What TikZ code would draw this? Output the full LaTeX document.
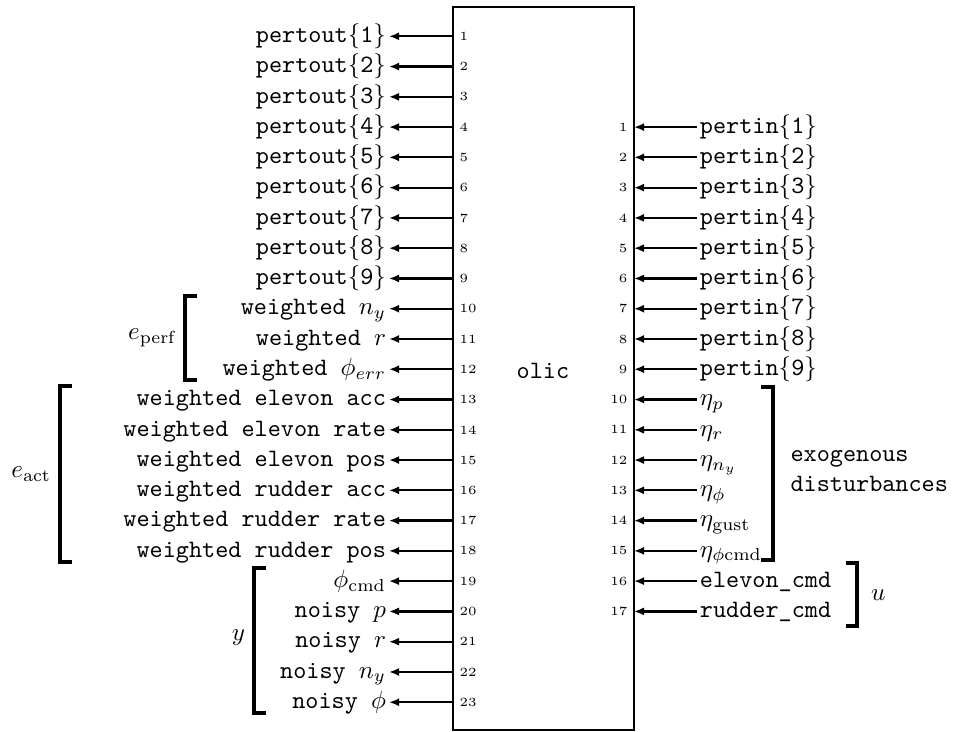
\documentclass[tikz,border=0pt]{standalone}
\usetikzlibrary{arrows.meta}
\newcommand{\lb}{$\{$}
\newcommand{\rb}{$\}$}
\begin{document}
\begin{tikzpicture}[x=0.4pt,y=-0.4pt,
  port/.style={line width=0.9pt,-{Latex[length=4pt,width=3.2pt]}},
  outlbl/.style={anchor=east,inner sep=1pt,font=\ttfamily,text height=7pt,text depth=2pt},
  inlbl/.style={anchor=west,inner sep=1pt,font=\ttfamily,text height=7pt,text depth=2pt},
  pnum/.style={inner sep=0pt,font=\tiny},
  brk/.style={line width=1.3pt}]
\useasboundingbox (0,0) rectangle (963,732);
% the system block
\draw[line width=0.8pt] (453,7) rectangle (634,730);
\node[font=\ttfamily] (olic) at (543,371) {olic};
% outputs on the left side
\foreach \t [count=\i] in {pertout\lb1\rb,pertout\lb2\rb,pertout\lb3\rb,pertout\lb4\rb,pertout\lb5\rb,
  pertout\lb6\rb,pertout\lb7\rb,pertout\lb8\rb,pertout\lb9\rb,
  {weighted $n_y$},{weighted $r$},{weighted $\phi_{err}$},
  weighted elevon acc,weighted elevon rate,weighted elevon pos,
  weighted rudder acc,weighted rudder rate,weighted rudder pos,
  {$\phi_{\rm cmd}$},{noisy $p$},{noisy $r$},{noisy $n_y$},{noisy $\phi$}}{
  \pgfmathsetmacro{\yy}{36.3+(\i-1)*30.27}
  \coordinate (L\i) at (453,\yy);
  \node[outlbl] (lo\i) at (389,\yy) {\t};
  \node[pnum,anchor=west] (ln\i) at (459,\yy) {\i};
  \draw[port] (L\i) -- (lo\i.east);
}
% inputs on the right side
\foreach \t [count=\i] in {pertin\lb1\rb,pertin\lb2\rb,pertin\lb3\rb,pertin\lb4\rb,pertin\lb5\rb,
  pertin\lb6\rb,pertin\lb7\rb,pertin\lb8\rb,pertin\lb9\rb,
  {$\eta_p$},{$\eta_r$},{$\eta_{n_y}$},{$\eta_\phi$},{$\eta_{\rm gust}$},{$\eta_{\phi\rm cmd}$},
  elevon\_cmd,rudder\_cmd}{
  \pgfmathsetmacro{\yy}{36.3+(\i+2)*30.27}
  \coordinate (R\i) at (634,\yy);
  \node[inlbl] (ri\i) at (697,\yy) {\t};
  \node[pnum,anchor=east] (rn\i) at (628,\yy) {\i};
  \draw[port] (ri\i.west) -- (R\i);
}
% grouping brackets
\draw[brk] (197,296) -- (185,296) -- (185,380) -- (197,380);
\node[anchor=east,inner sep=1pt] (eperf) at (180,338) {$e_{\rm perf}$};
\draw[brk] (72,386) -- (60,386) -- (60,562) -- (72,562);
\node[anchor=east,inner sep=1pt] (eact) at (54,474) {$e_{\rm act}$};
\draw[brk] (266,568) -- (254,568) -- (254,713) -- (266,713);
\node[anchor=east,inner sep=1pt] (ylbl) at (248,638) {$y$};
\draw[brk] (761,387) -- (773,387) -- (773,560) -- (761,560);
\node[anchor=west,align=left,font=\ttfamily,inner sep=0pt] (exo) at (790,471) {exogenous\\disturbances};
\draw[brk] (846,563) -- (857,563) -- (857,626) -- (846,626);
\node[anchor=west,inner sep=1pt] (ulbl) at (868,595) {$u$};
\end{tikzpicture}
\end{document}
